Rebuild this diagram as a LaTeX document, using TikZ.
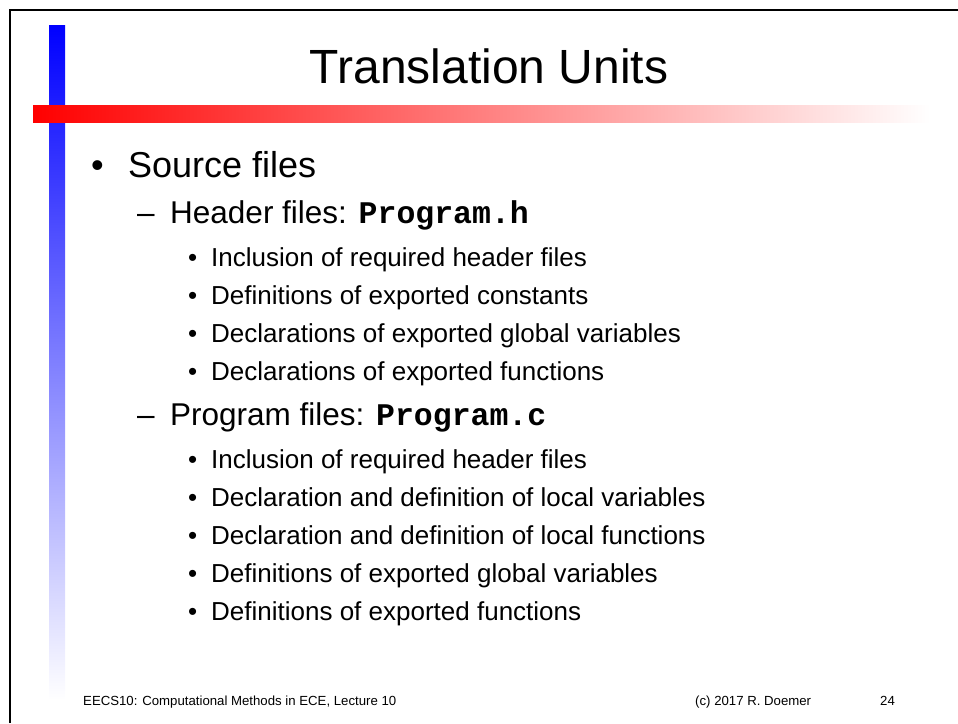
\documentclass[tikz,border=0pt]{standalone}
\usepackage{fontspec}
\setmainfont{Liberation Sans}
\setmonofont{Liberation Mono}
\usetikzlibrary{positioning}

\begin{document}
\begin{tikzpicture}[x=1pt, y=-1pt,
    title/.style={anchor=base, inner sep=0pt, font=\fontsize{48}{52}\selectfont},
    lvlone/.style={anchor=base west, inner sep=0pt, font=\fontsize{36}{40}\selectfont},
    lvltwo/.style={anchor=base west, inner sep=0pt, font=\fontsize{31.5}{36}\selectfont},
    lvlthree/.style={anchor=base west, inner sep=0pt, font=\fontsize{26}{30}\selectfont},
    footer/.style={anchor=base west, inner sep=0pt, font=\fontsize{13.2}{15}\selectfont},
    code/.style={font=\ttfamily\bfseries}
  ]
  \useasboundingbox (0,0) rectangle (958,723);

  % Slide frame (only top and left edges fall inside)
  \draw[line width=2.5pt] (10,723) -- (10,10) -- (958,10);

  % Decorative bars
  \shade[top color=blue, middle color=blue!25, bottom color=white] (49,25) rectangle (65,700);
  \shade[left color=red, middle color=red!25, right color=white] (33,105) rectangle (930,122);

  % Title
  \node[title] (title) at (489,83) {Translation Units};

  % Level one
  \node[lvlone] (srcbul) at (91,177) {\textbullet};
  \node[lvlone] (src) at (128,177) {Source files};

  % Header files
  \node[lvltwo] (hdrdash) at (137,223) {--};
  \node[lvltwo] (hdr) at (170,223) {Header files: {\ttfamily\bfseries Program.h}};
  \node[lvlthree] (hdra) at (211,266) {Inclusion of required header files};
  \node[lvlthree] (hdrb) at (211,304) {Definitions of exported constants};
  \node[lvlthree] (hdrc) at (211,342) {Declarations of exported global variables};
  \node[lvlthree] (hdrd) at (211,380) {Declarations of exported functions};
  \node[lvlthree] (hdrabul) at (188,266) {\textbullet};
  \node[lvlthree] (hdrbbul) at (188,304) {\textbullet};
  \node[lvlthree] (hdrcbul) at (188,342) {\textbullet};
  \node[lvlthree] (hdrdbul) at (188,380) {\textbullet};

  % Program files
  \node[lvltwo] (prgdash) at (137,425) {--};
  \node[lvltwo] (prg) at (170,425) {Program files: {\ttfamily\bfseries Program.c}};
  \node[lvlthree] (prga) at (211,468) {Inclusion of required header files};
  \node[lvlthree] (prgb) at (211,506) {Declaration and definition of local variables};
  \node[lvlthree] (prgc) at (211,544) {Declaration and definition of local functions};
  \node[lvlthree] (prgd) at (211,582) {Definitions of exported global variables};
  \node[lvlthree] (prge) at (211,620) {Definitions of exported functions};
  \node[lvlthree] (prgabul) at (188,468) {\textbullet};
  \node[lvlthree] (prgbbul) at (188,506) {\textbullet};
  \node[lvlthree] (prgcbul) at (188,544) {\textbullet};
  \node[lvlthree] (prgdbul) at (188,582) {\textbullet};
  \node[lvlthree] (prgebul) at (188,620) {\textbullet};

  % Footer
  \node[footer] (course) at (83,705) {EECS10: Computational Methods in ECE, Lecture 10};
  \node[footer] (copy) at (695,705) {(c) 2017 R. Doemer};
  \node[footer] (page) at (880,705) {24};
\end{tikzpicture}
\end{document}
